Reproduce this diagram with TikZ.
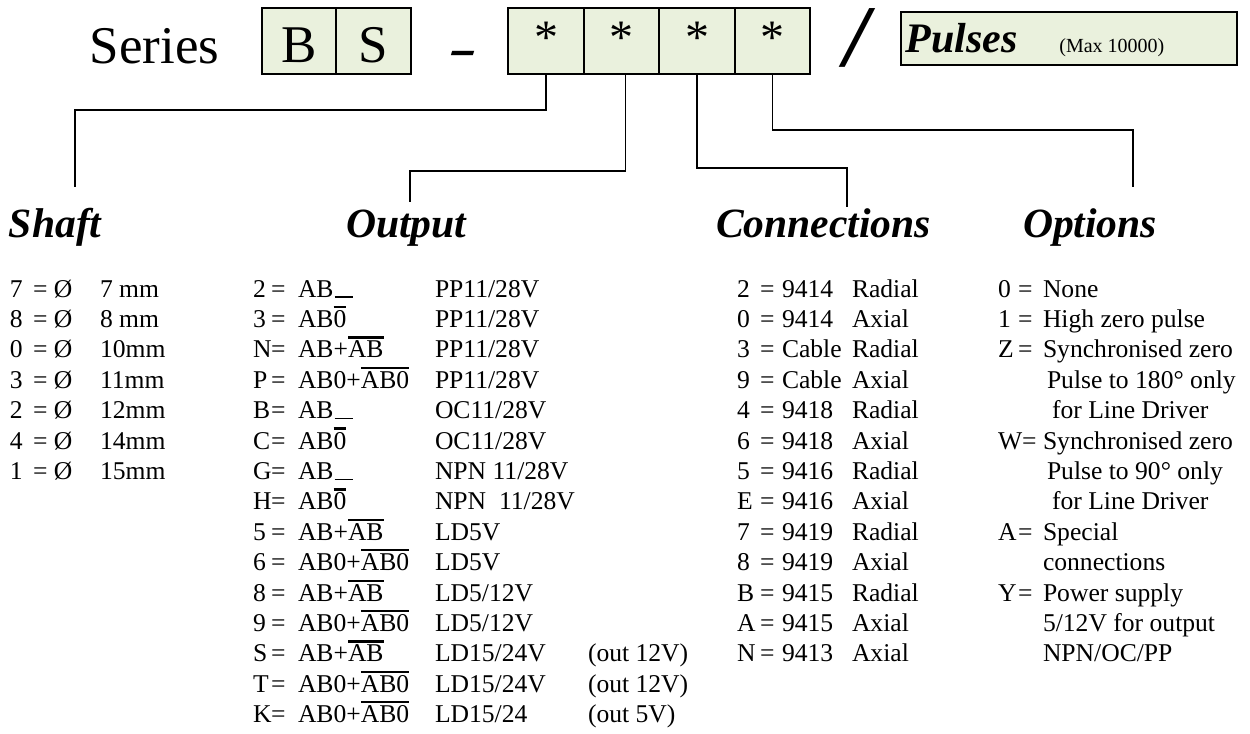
\documentclass[tikz,border=0pt]{standalone}
\usepackage{fontspec}
\setmainfont{Liberation Serif}
\definecolor{cellgreen}{RGB}{234,241,221}
\newcommand\ovl[1]{\vbox{\hrule height 1.2pt\kern 1.1pt\hbox{#1}}}
\newcommand\uscore{\kern0.5pt\rule[-0.3pt]{9pt}{0.7pt}}
\newcommand\rowy[1]{297+(#1-1)*30.4}
\newcommand\shrow[3]{%
  \node[txt] (sk#1) at (10,{\rowy{#1}}) {#2};
  \node[txt] (se#1) at (33,{\rowy{#1}}) {= Ø};
  \node[txt] (sv#1) at (100,{\rowy{#1}}) {#3};}
\newcommand\orow[4]{%
  \node[txt] (ok#1) at (253,{\rowy{#1}}) {#2};
  \node[txt] (oe#1) at (271,{\rowy{#1}}) {=};
  \node[txt] (of#1) at (298,{\rowy{#1}}) {#3};
  \node[txt] (ov#1) at (435,{\rowy{#1}}) {#4};}
\newcommand\crow[4]{%
  \node[txt] (ck#1) at (737,{\rowy{#1}}) {#2};
  \node[txt] (ce#1) at (760,{\rowy{#1}}) {=};
  \node[txt] (cv#1) at (782,{\rowy{#1}}) {#3};
  \node[txt] (ct#1) at (852,{\rowy{#1}}) {#4};}
\newcommand\oprow[4]{%
  \node[txt] (pk#1) at (998,{\rowy{#1}}) {#2};
  \node[txt] (pe#1) at (#3,{\rowy{#1}}) {=};
  \node[txt] (pt#1) at (1043,{\rowy{#1}}) {#4};}
\newcommand\opcont[3]{%
  \node[txt] (pc#1) at (#2,{\rowy{#1}}) {#3};}
\begin{document}
\begin{tikzpicture}[x=0.5pt,y=-0.5pt,
  cell/.style={draw, fill=cellgreen, line width=1.1pt, inner sep=0, outer sep=0, minimum height=33pt},
  txt/.style={anchor=base west, inner sep=0, outer sep=0, font=\fontsize{12.8}{14}\selectfont},
  head/.style={anchor=base west, inner sep=0, outer sep=0, font=\fontsize{20.8}{24}\selectfont\bfseries\itshape},
  big/.style={anchor=base, inner sep=0, outer sep=0, font=\fontsize{26.5}{30}\selectfont},
  startxt/.style={anchor=base, inner sep=0, outer sep=0, font=\fontsize{24}{28}\selectfont},
  conn/.style={line width=0.8pt}]
\useasboundingbox (0,0) rectangle (1250,734);

% top row
\node[big, anchor=base west] (series) at (90,63) {Series};
\node[cell, minimum width=37.25pt] (cb) at (299,41) {};
\node[cell, minimum width=37.25pt] (cs) at (373.5,41) {};
\node[big] (tb) at (299,62) {B};
\node[big] (ts) at (373.5,62) {S};
\node[anchor=base, inner sep=0, font=\fontsize{34}{38}\selectfont\bfseries\itshape, xscale=1.25, yscale=0.75, transform shape] (dash) at (464,65) {-};
\node[cell, minimum width=37.75pt] (c1) at (546,41) {};
\node[cell, minimum width=37.75pt] (c2) at (621.5,41) {};
\node[cell, minimum width=37.75pt] (c3) at (697,41) {};
\node[cell, minimum width=37.75pt] (c4) at (772.5,41) {};
\node[startxt] (s1) at (546,53) {*};
\node[startxt] (s2) at (621.5,53) {*};
\node[startxt] (s3) at (697,53) {*};
\node[startxt] (s4) at (772.5,53) {*};
\node[anchor=base, inner sep=0, font=\fontsize{44}{48}\selectfont\bfseries\itshape] (slash) at (857,66) {/};
\node[cell, line width=0.9pt, minimum width=168pt, minimum height=26.5pt] (pbox) at (1069,38.5) {};
\node[anchor=base west, inner sep=0, font=\fontsize{21}{24}\selectfont\bfseries\itshape] (pulses) at (905,52) {Pulses};
\node[anchor=base west, inner sep=0, font=\fontsize{10}{12}\selectfont] (pmax) at (1059,52) {(Max 10000)};

% connectors
\coordinate (shBend) at (75,110);
\coordinate (shEnd) at (75,187);
\coordinate (oBend) at (410,171);
\coordinate (oEnd) at (410,202);
\coordinate (cBend) at (847,168);
\coordinate (cEnd) at (847,207);
\coordinate (pBend) at (1133,130);
\coordinate (pEnd) at (1133,187);
\draw[conn] (c1.south) |- (shBend) -- (shEnd);
\draw[conn] ([xshift=2pt]c2.south) |- (oBend) -- (oEnd);
\draw[conn] (c3.south) |- (cBend) -- (cEnd);
\draw[conn] (c4.south) |- (pBend) -- (pEnd);

% headings
\node[head] (hshaft) at (9,237) {Shaft};
\node[head] (houtput) at (346,237) {Output};
\node[head] (hconn) at (716,237) {Connections};
\node[head] (hopt) at (1023,237) {Options};

% shaft
\shrow{1}{7}{7 mm}
\shrow{2}{8}{8 mm}
\shrow{3}{0}{10mm}
\shrow{4}{3}{11mm}
\shrow{5}{2}{12mm}
\shrow{6}{4}{14mm}
\shrow{7}{1}{15mm}

% output
\orow{1}{2}{AB\uscore}{PP11/28V}
\orow{2}{3}{AB\ovl{0}}{PP11/28V}
\orow{3}{N}{AB+\ovl{AB}}{PP11/28V}
\orow{4}{P}{AB0+\ovl{AB0}}{PP11/28V}
\orow{5}{B}{AB\uscore}{OC11/28V}
\orow{6}{C}{AB\ovl{0}}{OC11/28V}
\orow{7}{G}{AB\uscore}{NPN 11/28V}
\orow{8}{H}{AB\ovl{0}}{NPN\ \ 11/28V}
\orow{9}{5}{AB+\ovl{AB}}{LD5V}
\orow{10}{6}{AB0+\ovl{AB0}}{LD5V}
\orow{11}{8}{AB+\ovl{AB}}{LD5/12V}
\orow{12}{9}{AB0+\ovl{AB0}}{LD5/12V}
\orow{13}{S}{AB+\ovl{AB}}{LD15/24V}
\orow{14}{T}{AB0+\ovl{AB0}}{LD15/24V}
\orow{15}{K}{AB0+\ovl{AB0}}{LD15/24}
\node[txt] (ox13) at (588,{\rowy{13}}) {(out 12V)};
\node[txt] (ox14) at (588,{\rowy{14}}) {(out 12V)};
\node[txt] (ox15) at (588,{\rowy{15}}) {(out 5V)};

% connections
\crow{1}{2}{9414}{Radial}
\crow{2}{0}{9414}{Axial}
\crow{3}{3}{Cable}{Radial}
\crow{4}{9}{Cable}{Axial}
\crow{5}{4}{9418}{Radial}
\crow{6}{6}{9418}{Axial}
\crow{7}{5}{9416}{Radial}
\crow{8}{E}{9416}{Axial}
\crow{9}{7}{9419}{Radial}
\crow{10}{8}{9419}{Axial}
\crow{11}{B}{9415}{Radial}
\crow{12}{A}{9415}{Axial}
\crow{13}{N}{9413}{Axial}

% options
\oprow{1}{0}{1018}{None}
\oprow{2}{1}{1018}{High zero pulse}
\oprow{3}{Z}{1018}{Synchronised zero}
\opcont{4}{1047}{Pulse to 180° only}
\opcont{5}{1052}{for Line Driver}
\oprow{6}{W}{1022}{Synchronised zero}
\opcont{7}{1047}{Pulse to 90° only}
\opcont{8}{1052}{for Line Driver}
\oprow{9}{A}{1018}{Special}
\opcont{10}{1043}{connections}
\oprow{11}{Y}{1018}{Power supply}
\opcont{12}{1043}{5/12V for output}
\opcont{13}{1043}{NPN/OC/PP}
\end{tikzpicture}
\end{document}
